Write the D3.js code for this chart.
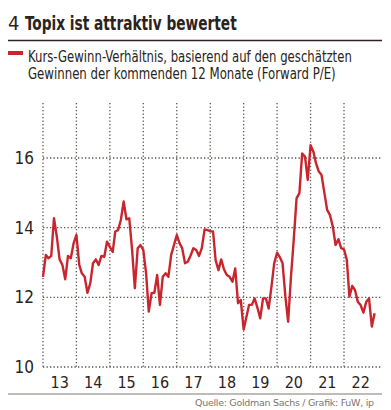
<!DOCTYPE html>
<html>
<head>
<meta charset="utf-8">
<script src="https://cdn.jsdelivr.net/npm/d3@7"></script>
<style>
  html, body { margin: 0; padding: 0; background: #fff; }
  svg { display: block; font-family: "DejaVu Sans Condensed", "Liberation Sans Narrow", sans-serif; }
</style>
</head>
<body>
<div id="chart"></div>
<script>
"use strict";
// Topix forward P/E, monthly from Jan 2013
var startMonth = "2013-01";
var peValues = [
  12.59, 13.22, 13.12, 13.19, 14.27, 13.74, 13.09, 12.93, 12.52, 13.19, 13.12, 13.55,
  13.79, 12.93, 12.69, 12.59, 12.13, 12.40, 12.98, 13.09, 12.93, 13.19, 13.16, 13.60,
  13.45, 13.30, 13.89, 13.93, 14.22, 14.75, 14.24, 14.27, 13.36, 12.26, 13.41, 13.50,
  13.36, 12.69, 11.59, 12.12, 12.13, 12.64, 11.78, 12.59, 12.69, 12.59, 13.22, 13.50,
  13.79, 13.55, 13.41, 12.98, 13.02, 13.20, 13.41, 13.36, 13.19, 13.41, 13.95, 13.93,
  13.90, 13.89, 13.07, 12.78, 13.09, 12.80, 12.64, 12.59, 12.45, 12.83, 11.83, 11.92,
  11.08, 11.44, 11.78, 11.79, 11.97, 11.70, 11.40, 11.97, 11.97, 11.68, 12.31, 12.98,
  13.28, 13.15, 12.98, 12.02, 11.30, 12.59, 13.65, 14.84, 14.99, 16.13, 16.04, 15.37,
  16.37, 16.18, 15.85, 15.61, 15.51, 14.99, 14.51, 14.36, 14.03, 13.50, 13.67, 13.41,
  13.38, 13.07, 12.02, 12.33, 12.21, 11.87, 11.78, 11.56, 11.87, 11.97, 11.16, 11.54
];
var yTicks = [10, 12, 14, 16];
var yearLabels = ["13", "14", "15", "16", "17", "18", "19", "20", "21", "22"];
var titleNumber = "4";
var titleText = "Topix ist attraktiv bewertet";
var legendLines = ["Kurs-Gewinn-Verhältnis, basierend auf den geschätzten",
                   "Gewinnen der kommenden 12 Monate (Forward P/E)"];
var sourceText = "Quelle: Goldman Sachs / Grafik: FuW, ip";

var W = 391, H = 410;
var red = "#c8262e", ink = "#2b2320", grid = "#5a524c";

var parseMonth = d3.timeParse("%Y-%m");
var t0 = parseMonth(startMonth);
var data = peValues.map(function(v, i) {
  return { date: d3.timeMonth.offset(t0, i), value: v };
});

var svg = d3.select("#chart").append("svg")
  .attr("width", W).attr("height", H);

var plot = { left: 43, right: 382, top: 103, bottom: 367 };

var x = d3.scaleTime()
  .domain([parseMonth("2013-01"), parseMonth("2022-01")])
  .range([plot.left, 344]);
var y = d3.scaleLinear()
  .domain([10, 16])
  .range([plot.bottom, 158]);

// squeeze a text to a target width (the print font is condensed)
function fitWidth(sel, target) {
  sel.each(function() {
    var w = this.getComputedTextLength();
    var k = Math.min(1, target / w);
    var tx = +this.getAttribute("x"), ty = +this.getAttribute("y");
    d3.select(this).attr("transform",
      "translate(" + tx + "," + ty + ") scale(" + k + ",1) translate(" + (-tx) + "," + (-ty) + ")");
  });
}

// header
svg.append("text").attr("x", 8).attr("y", 30)
  .attr("fill", ink).style("font-size", "20px")
  .text(titleNumber);
svg.append("text").attr("x", 25).attr("y", 30)
  .attr("fill", ink).style("font-size", "20px").style("font-weight", "bold")
  .text(titleText)
  .call(fitWidth, 212);

svg.append("line")
  .attr("x1", 8).attr("x2", 382).attr("y1", 40.5).attr("y2", 40.5)
  .attr("stroke", ink).attr("stroke-width", 1.6);

svg.append("rect").attr("x", 8).attr("y", 51).attr("width", 15).attr("height", 4)
  .attr("fill", red);
var legendWidths = [324, 308];
svg.selectAll("text.legend").data(legendLines).enter().append("text")
  .attr("class", "legend")
  .attr("x", 28).attr("y", function(d, i) { return 62 + i * 17; })
  .attr("fill", ink).style("font-size", "15.5px")
  .text(function(d) { return d; })
  .each(function(d, i) { d3.select(this).call(fitWidth, legendWidths[i]); });

// grid
var years = d3.timeYear.range(parseMonth("2013-01"), parseMonth("2022-02"));
svg.append("g").selectAll("line").data(years).enter().append("line")
  .attr("x1", function(d) { return x(d); }).attr("x2", function(d) { return x(d); })
  .attr("y1", plot.top).attr("y2", plot.bottom)
  .attr("stroke", grid).attr("stroke-width", 1.3)
  .attr("stroke-dasharray", "1.3,2.2");
svg.append("g").selectAll("line").data(yTicks).enter().append("line")
  .attr("x1", plot.left).attr("x2", plot.right)
  .attr("y1", function(d) { return y(d); }).attr("y2", function(d) { return y(d); })
  .attr("stroke", grid).attr("stroke-width", 1.3)
  .attr("stroke-dasharray", "1.3,2.2");

// y labels
svg.append("g").selectAll("text").data(yTicks).enter().append("text")
  .attr("x", 34).attr("y", function(d) { return y(d) + 6; })
  .attr("text-anchor", "end").attr("fill", ink).style("font-size", "17px")
  .text(function(d) { return d; });

// x labels, centred in each year
svg.append("g").selectAll("text").data(yearLabels).enter().append("text")
  .attr("x", function(d) {
    var yr = 2000 + (+d);
    return (x(new Date(yr, 0, 1)) + x(new Date(yr + 1, 0, 1))) / 2;
  })
  .attr("y", 388).attr("text-anchor", "middle").attr("fill", ink)
  .style("font-size", "16px")
  .text(function(d) { return d; });

// series
var line = d3.line()
  .x(function(d) { return x(d.date); })
  .y(function(d) { return y(d.value); });
svg.append("path").datum(data)
  .attr("d", line).attr("fill", "none")
  .attr("stroke", red).attr("stroke-width", 2.4)
  .attr("stroke-linejoin", "round");

// footer
svg.append("line")
  .attr("x1", 8).attr("x2", 382).attr("y1", 394).attr("y2", 394)
  .attr("stroke", "#a8a4a0").attr("stroke-width", 1.6);
svg.append("text").attr("x", 374).attr("y", 406)
  .attr("text-anchor", "end").attr("fill", "#7a7571")
  .style("font-family", "'DejaVu Sans', sans-serif")
  .style("font-size", "9.5px")
  .attr("textLength", 179).attr("lengthAdjust", "spacing")
  .text(sourceText);
</script>
</body>
</html>
